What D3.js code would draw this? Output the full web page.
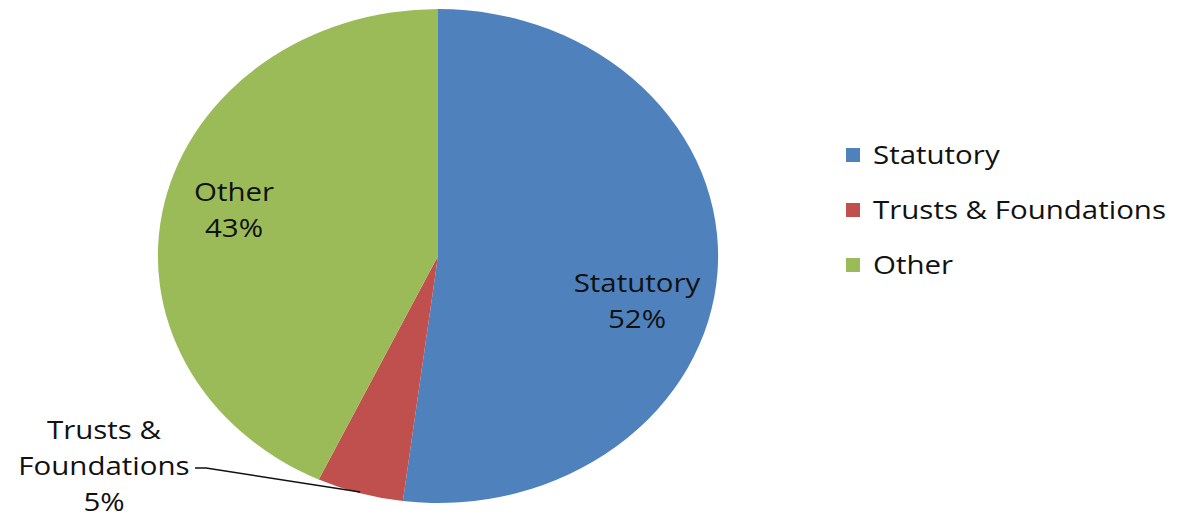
<!DOCTYPE html>
<html>
<head>
<meta charset="utf-8">
<script src="https://cdn.jsdelivr.net/npm/d3@7"></script>
<style>
  html, body { margin: 0; padding: 0; background: #fff; }
  svg { display: block; }
  text { font-family: "Open Sans", "Noto Sans", sans-serif; fill: #111; }
</style>
</head>
<body>
<svg id="chart" width="1179" height="517"></svg>
<script>
// Funding sources
const categories = ["Statutory", "Trusts & Foundations", "Other"];
const shares = [52, 5, 43];
const colors = ["#4F81BD", "#C0504D", "#9BBB59"];

const W = 1179, H = 517;
const svg = d3.select("#chart");

// The whole chart is drawn slightly wider than tall
const cx = 438, cy = 256, ry = 247, sx = 1.134;

const pie = d3.pie().sort(null).value(d => d.v);
const arcs = pie(categories.map((c, i) => ({ c, v: shares[i], col: colors[i] })));
const arc = d3.arc().innerRadius(0).outerRadius(ry);

const g = svg.append("g").attr("transform", `translate(${cx},${cy}) scale(${sx},1)`);
g.selectAll("path.slice")
  .data(arcs)
  .join("path")
  .attr("class", "slice")
  .attr("d", arc)
  .attr("fill", d => d.data.col);

const fs = 26;
const pt = (a, r) => [cx + sx * r * Math.sin(a), cy - r * Math.cos(a)];

// Text placed at (x, y) and widened like the pie
function textAt(x, y, s, anchor) {
  return svg.append("g")
    .attr("transform", `translate(${x},${y}) scale(${sx},1)`)
    .append("text")
    .attr("text-anchor", anchor || "middle")
    .attr("font-size", fs)
    .text(s);
}

// Data labels
const fmt = v => v + "%";
function label(lines, x, y) {
  lines.forEach((s, i) => textAt(x, y + i * 36, s));
}
label([categories[0], fmt(shares[0])], 637, 292);
label([categories[2], fmt(shares[2])], 234, 201);
label(["Trusts &", "Foundations", fmt(shares[1])], 104, 439);

// Leader line for the small slice
const trusts = arcs[1];
const mid = (trusts.startAngle + trusts.endAngle) / 2;
const tip = pt(mid, ry * 0.995);
svg.append("path")
  .attr("d", `M195,468 L206,468 L${tip[0]},${tip[1]}`)
  .attr("fill", "none")
  .attr("stroke", "#111")
  .attr("stroke-width", 1.4);

// Legend
categories.forEach((c, i) => {
  const y = 155 + i * 55;
  svg.append("rect").attr("x", 846).attr("y", y - 7).attr("width", 14).attr("height", 14)
    .attr("fill", colors[i]);
  textAt(873, y + 9, c, "start");
});
</script>
</body>
</html>
